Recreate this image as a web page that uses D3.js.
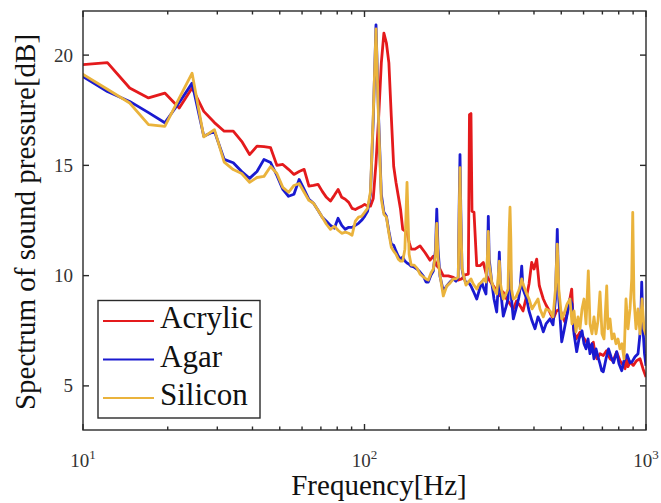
<!DOCTYPE html>
<html><head><meta charset="utf-8">
<script src="https://cdn.jsdelivr.net/npm/d3@7"></script>
<style>body{margin:0;background:#fff}svg{display:block}svg text{font-family:'Liberation Serif','DejaVu Serif',serif !important}</style>
</head><body><svg id="c" width="661" height="503"></svg>
<script>
// FFT bin frequencies (Hz), low range
const freqLow = [9.77,12.21,14.65,17.09,19.53,21.97,24.41,26.86,29.30,31.74,34.18,36.62,39.06,41.50,43.95,46.39,48.83,51.27,53.71,56.15,58.59,61.04,63.48,65.92,68.36,70.80,73.24,75.68,78.13,80.57,83.01,85.45,87.89,90.33,92.77,95.21,97.66,100.10,102.54,104.98,107.42,109.86,112.30,114.75,117.19,119.63,122.07,124.51,126.95,129.39,131.84,134.28,136.72,139.16,141.60,144.04,146.48];
const acrylicLow = [19.56,19.66,18.51,18.06,18.28,17.60,18.51,17.45,16.94,16.55,16.55,16.09,15.49,15.87,15.85,15.80,15.00,15.04,14.82,14.59,14.72,14.82,14.06,14.09,14.14,13.82,13.55,13.38,13.64,13.91,13.55,13.46,13.32,13.05,13.00,13.08,13.14,13.23,13.15,13.15,13.50,15.10,17.20,19.65,21.00,20.55,19.65,17.22,14.96,14.22,13.61,13.01,12.10,12.03,11.97,11.51,11.20];
const agarLow = [19.10,18.35,17.90,17.39,16.93,17.85,18.73,16.32,16.55,15.27,15.12,14.72,14.41,14.72,15.27,15.13,14.54,13.91,13.60,13.69,14.36,13.91,13.46,13.28,12.96,12.65,12.47,12.28,12.15,12.60,12.28,12.10,12.19,12.19,12.28,12.37,12.51,12.69,12.92,13.69,17.07,21.37,17.07,13.69,12.87,12.69,12.01,11.43,11.38,11.11,10.88,10.75,10.84,10.66,10.57,10.52,10.43];
const siliconLow = [19.20,18.45,17.83,16.85,16.77,18.05,19.18,16.29,16.62,15.15,14.81,14.63,14.23,14.45,14.50,14.95,14.63,14.00,13.78,14.09,14.18,13.78,13.41,13.28,12.96,12.65,12.33,12.10,12.24,12.06,11.92,11.97,11.92,11.83,12.47,12.65,12.69,12.87,13.05,13.80,17.30,21.19,16.85,13.46,12.78,12.65,11.92,11.29,11.11,10.97,10.75,10.66,10.66,11.20,14.23,10.97,10.48];

// high range (Hz, dB)
const acrylicHighF = [151.1,157.5,164.0,170.9,175.6,180.6,185.4,190.5,198.5,206.8,214.8,221.4,227.5,233.8,236.0,238.9,240.9,244.9,250.4,257.2,264.2,271.7,279.2,286.8,295.6,302.9,310.5,320.0,328.8,337.8,346.7,356.8,365.7,376.9,384.1,392.6,400.1,409.0,417.8,431.7,441.4,449.7,459.8,468.6,480.9,495.0,505.2,515.7,528.5,544.6,552.7,564.0,582.8,597.4,615.7,632.6,649.9,658.9,669.8,686.5,705.2,724.0,745.0,763.6,786.9,808.5,830.8,842.3,852.7,863.1,877.5,901.6,925.5,952.2,975.7,1000];
const acrylicHighDb = [11.20,11.35,11.05,10.70,10.88,10.45,10.30,9.99,9.99,9.92,9.80,9.85,10.03,10.07,17.30,17.35,12.92,12.87,10.45,10.45,10.60,9.99,9.75,9.54,9.30,9.09,9.26,8.94,8.71,8.49,8.85,8.64,8.40,9.09,9.62,10.60,10.30,10.75,9.54,8.94,8.67,8.49,8.22,8.04,8.40,8.49,8.13,7.89,8.49,9.39,7.59,7.13,7.43,7.22,6.98,6.77,6.98,6.46,6.23,6.46,6.38,6.59,6.23,6.14,6.53,6.14,5.93,5.78,6.32,5.87,6.08,5.93,6.14,6.23,5.78,5.40];
const agarHighF = [149.9,153.6,157.5,161.8,165.4,168.5,172.3,175.6,178.8,180.6,182.5,185.4,190.5,195.9,201.2,206.8,211.3,215.3,217.1,218.4,219.8,222.0,224.4,229.4,233.8,238.9,243.5,250.4,255.1,260.8,265.7,270.1,273.5,275.3,277.3,283.1,288.4,294.9,298.1,301.3,304.2,311.2,318.2,323.5,328.8,332.9,337.8,345.3,352.5,356.8,361.8,365.7,376.9,384.1,393.6,403.4,413.4,420.2,431.7,441.4,456.1,467.4,476.9,484.0,490.0,501.9,511.4,524.2,537.0,546.0,555.0,567.3,578.0,592.4,602.3,612.3,622.3,632.6,642.9,653.5,664.3,675.2,686.5,696.0,705.2,721.0,736.0,751.2,766.7,786.9,801.8,820.0,835.5,856.3,877.5,891.6,914.1,936.9,956.2,965.5,975.7,987.8,1000];
const agarHighDb = [10.39,10.30,10.16,9.98,9.71,9.71,10.03,10.21,11.20,13.01,11.20,9.98,9.30,9.53,9.71,9.85,9.75,9.94,13.46,15.49,13.01,10.30,9.98,9.66,9.71,9.53,9.30,8.94,9.30,9.71,9.39,9.17,10.75,12.69,10.75,9.71,8.94,8.35,9.39,11.06,9.39,8.17,8.58,8.94,11.20,8.94,8.04,8.49,8.94,9.39,10.43,9.39,8.94,8.40,7.95,7.59,8.13,7.95,7.45,7.81,8.04,7.77,8.94,12.10,8.94,7.00,7.50,8.22,8.94,8.71,7.36,6.55,7.13,7.50,6.91,6.68,7.13,6.46,6.91,6.23,6.68,6.32,6.00,5.69,5.64,6.23,6.68,6.32,6.05,6.55,6.00,5.69,6.14,6.41,6.05,6.09,6.32,6.46,7.59,9.71,7.59,6.46,5.91];
const siliconHighF = [149.9,153.6,157.5,161.8,165.4,168.5,172.3,175.6,178.8,180.6,182.5,185.4,190.5,195.9,201.2,206.8,211.3,215.3,217.1,218.4,219.8,222.0,224.4,229.4,233.8,238.9,243.5,250.4,255.1,260.8,265.7,270.1,273.5,275.3,277.3,283.1,288.4,294.9,298.1,301.3,304.2,311.2,318.2,323.5,326.7,328.8,331.0,332.9,337.8,345.3,352.5,356.8,361.8,365.7,376.9,384.1,393.6,403.4,413.4,420.2,431.7,441.4,456.1,467.4,476.9,484.0,490.0,501.9,511.4,524.2,537.0,546.0,555.0,564.0,573.4,582.8,592.4,602.3,612.3,623.8,632.6,642.9,653.5,664.3,675.2,686.5,697.8,709.3,725.2,732.8,745.0,757.1,769.6,782.3,795.2,808.5,821.6,835.5,849.1,863.1,877.5,889.8,897.2,906.4,921.4,936.9,952.2,968.0,983.8,1000];
const siliconHighDb = [10.48,10.34,10.07,9.94,9.85,9.80,10.12,10.30,10.97,12.37,10.75,10.03,9.08,9.53,9.66,9.85,9.85,9.94,13.01,14.90,12.56,10.39,10.03,9.57,9.71,9.85,9.62,9.39,9.62,9.71,9.85,9.71,10.97,12.01,10.52,9.71,9.39,9.17,9.85,10.66,9.62,8.94,9.17,9.39,12.10,13.10,11.65,9.39,8.94,9.03,9.30,9.48,9.85,9.62,9.17,8.94,8.49,8.71,8.94,8.49,8.13,8.49,8.40,8.13,9.39,11.43,9.39,8.04,8.26,8.71,8.94,7.81,8.40,7.45,8.13,7.59,8.49,8.94,7.81,10.22,7.81,7.36,8.13,7.36,7.95,9.26,7.36,7.13,9.53,7.59,8.04,7.13,7.36,6.91,7.13,6.68,6.91,6.23,8.94,7.59,8.49,9.85,12.87,8.94,7.59,8.49,7.36,8.94,7.59,7.30];

const seriesNames = ["Acrylic","Agar","Silicon"];
const seriesColors = ["#e41a1c","#1a1ad0","#eab33c"];
const xMajor = [10,100,1000];
const xMinor = [20,30,40,50,60,70,80,90,200,300,400,500,600,700,800,900];
const yTicks = [5,10,15,20];

const FONT = "'Liberation Serif', 'DejaVu Serif', serif";
const svg = d3.select("#c").style("font-family", FONT);
svg.append("rect").attr("width",661).attr("height",503).attr("fill","#fff");
const L=83,R=646,T=11,B=430;
const x = d3.scaleLog().domain([10,1000]).range([L,R]);
const y = d3.scaleLinear().domain([3,22]).range([B,T]);

const build = (fl, vl, fh, vh) => fl.map((f,i)=>[f,vl[i]]).concat(fh.map((f,i)=>[f,vh[i]]));
const data = [
  build(freqLow, acrylicLow, acrylicHighF, acrylicHighDb),
  build(freqLow, agarLow, agarHighF, agarHighDb),
  build(freqLow, siliconLow, siliconHighF, siliconHighDb)
];

svg.append("clipPath").attr("id","clip").append("rect").attr("x",L).attr("y",T).attr("width",R-L).attr("height",B-T);
const line = d3.line().x(d=>x(d[0])).y(d=>y(d[1])).curve(d3.curveLinear);
const g = svg.append("g").attr("clip-path","url(#clip)");
data.forEach((d,i)=>{
  g.append("path").attr("d",line(d)).attr("fill","none").attr("stroke",seriesColors[i])
   .attr("stroke-width",2.8).attr("stroke-linejoin","round");
});

// axes box
const ax = svg.append("g").attr("stroke","#2a2a2a").attr("stroke-width",1.4).attr("fill","none");
ax.append("rect").attr("x",L).attr("y",T).attr("width",R-L).attr("height",B-T);
xMajor.forEach(v=>{
  ax.append("line").attr("x1",x(v)).attr("x2",x(v)).attr("y1",B).attr("y2",B-6);
  ax.append("line").attr("x1",x(v)).attr("x2",x(v)).attr("y1",T).attr("y2",T+6);
});
xMinor.forEach(v=>{
  ax.append("line").attr("x1",x(v)).attr("x2",x(v)).attr("y1",B).attr("y2",B-3.5);
  ax.append("line").attr("x1",x(v)).attr("x2",x(v)).attr("y1",T).attr("y2",T+3.5);
});
yTicks.forEach(v=>{
  ax.append("line").attr("x1",L).attr("x2",L+6).attr("y1",y(v)).attr("y2",y(v));
  ax.append("line").attr("x1",R).attr("x2",R-6).attr("y1",y(v)).attr("y2",y(v));
});

const txt = (sel) => sel.style("font-family", FONT);

// tick labels
yTicks.forEach(v=>{
  txt(svg.append("text")).attr("x",73).attr("y",y(v)+6.5).attr("text-anchor","end")
    .attr("fill","#333").attr("font-size",19).text(v);
});
xMajor.forEach(v=>{
  const t = txt(svg.append("text")).attr("x",x(v)).attr("y",467).attr("text-anchor","middle")
    .attr("fill","#333").attr("font-size",19);
  t.append("tspan").text("10");
  t.append("tspan").attr("font-size",13).attr("dy",-8).text(Math.round(Math.log10(v)));
});

// axis labels
txt(svg.append("text")).attr("x",379).attr("y",495).attr("text-anchor","middle")
  .attr("fill","#111").attr("font-size",29).text("Frequency[Hz]");
txt(svg.append("text")).attr("transform","translate(35,222) rotate(-90)").attr("text-anchor","middle")
  .attr("fill","#111").attr("font-size",29).text("Spectrum of sound pressure[dB]");

// legend
const lg = svg.append("g");
lg.append("rect").attr("x",98).attr("y",300.5).attr("width",162).attr("height",117.5).attr("fill","#fff").attr("stroke","#2a2a2a").attr("stroke-width",1.4);
seriesNames.forEach((n,i)=>{
  const by = 328 + i*38.5;
  lg.append("line").attr("x1",103).attr("x2",154).attr("y1",by-7).attr("y2",by-7).attr("stroke",seriesColors[i]).attr("stroke-width",2.2);
  txt(lg.append("text")).attr("x",160).attr("y",by).attr("fill","#111").attr("font-size",31).text(n);
});
</script></body></html>
